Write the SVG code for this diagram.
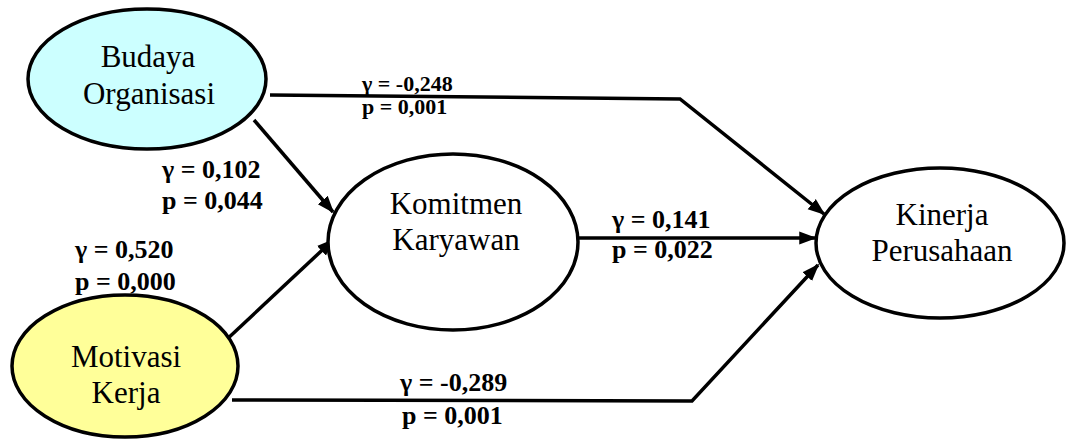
<svg xmlns="http://www.w3.org/2000/svg" width="1078" height="442" viewBox="0 0 1078 442">
<style>
.node{stroke:#000;stroke-width:3.5}
.nt{font-family:'Liberation Serif','Times New Roman',serif;font-size:31px;text-anchor:middle;fill:#000}
.lb{font-family:'Liberation Serif','Times New Roman',serif;font-weight:bold;font-size:26px;fill:#000}
.sm{font-size:22px}
.c{fill:none;stroke:#000;stroke-width:3.5}
</style>
<defs>
<marker id="ah" viewBox="0 0 10 10" refX="9" refY="5" markerWidth="5" markerHeight="5" markerUnits="strokeWidth" orient="auto">
<path d="M0,1.3 L10,5 L0,8.7 z" fill="#000"/>
</marker>
</defs>
<rect width="1078" height="442" fill="#fff"/>
<g id="connectors">
<polyline class="c" points="270,95 680,99 824,214" marker-end="url(#ah)"/>
<line class="c" x1="254" y1="120" x2="333" y2="212" marker-end="url(#ah)"/>
<line class="c" x1="224" y1="342" x2="333" y2="240" marker-end="url(#ah)"/>
<line class="c" x1="575" y1="238" x2="815" y2="238" marker-end="url(#ah)"/>
<polyline class="c" points="232,400 692,401 818,265" marker-end="url(#ah)"/>
</g>
<g id="budaya">
<ellipse class="node" cx="147" cy="79" rx="119" ry="70" fill="#CCFFFF"/>
<text class="nt" x="148" y="67">Budaya</text>
<text class="nt" x="149" y="104">Organisasi</text>
</g>
<g id="komitmen">
<ellipse class="node" cx="453" cy="242" rx="125" ry="88" fill="#fff"/>
<text class="nt" x="456" y="214">Komitmen</text>
<text class="nt" x="456" y="250">Karyawan</text>
</g>
<g id="kinerja">
<ellipse class="node" cx="940" cy="243" rx="124" ry="75" fill="#fff"/>
<text class="nt" x="942" y="225">Kinerja</text>
<text class="nt" x="942" y="261">Perusahaan</text>
</g>
<g id="motivasi">
<ellipse class="node" cx="125" cy="366" rx="113" ry="71" fill="#FFFF99"/>
<text class="nt" x="126" y="367">Motivasi</text>
<text class="nt" x="126" y="403">Kerja</text>
</g>
<g id="labels">
<text class="lb sm" x="362" y="91">γ = -0,248</text>
<text class="lb sm" x="362" y="114">p = 0,001</text>
<text class="lb" x="162" y="178">γ = 0,102</text>
<text class="lb" x="162" y="209">p = 0,044</text>
<text class="lb" x="75" y="258">γ = 0,520</text>
<text class="lb" x="75" y="290">p = 0,000</text>
<text class="lb" x="612" y="228">γ = 0,141</text>
<text class="lb" x="612" y="258">p = 0,022</text>
<text class="lb" x="400" y="391">γ = -0,289</text>
<text class="lb" x="402" y="424">p = 0,001</text>
</g>
</svg>
